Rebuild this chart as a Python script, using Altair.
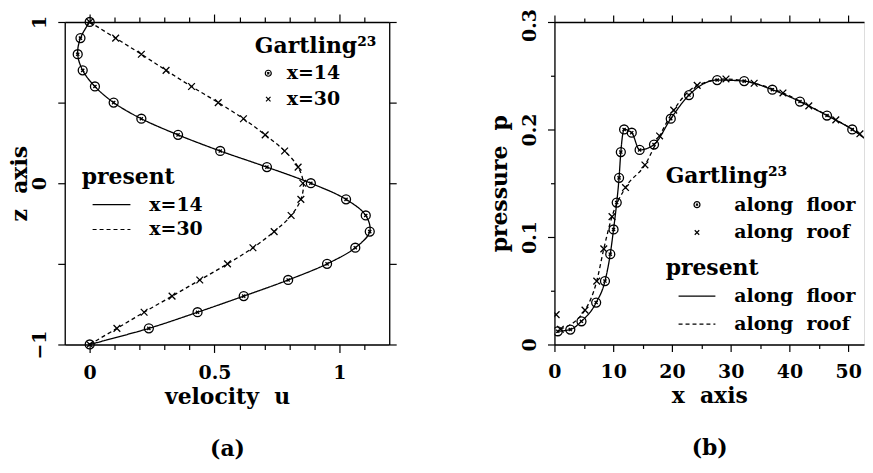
import altair as alt
import pandas as pd

FONT = "DejaVu Serif"
NB = "\u00a0"

# ---------------- panel (a): velocity profiles ----------------
z_levels = [1.0, 0.9, 0.8, 0.7, 0.6, 0.5, 0.4, 0.3, 0.2, 0.1, 0.0,
            -0.1, -0.2, -0.3, -0.4, -0.5, -0.6, -0.7, -0.8, -0.9, -1.0]
u_gart_x14 = [0.0, -0.037, -0.048, -0.028, 0.021, 0.096, 0.207, 0.354, 0.523, 0.710, 0.886,
              1.027, 1.106, 1.122, 1.064, 0.951, 0.795, 0.617, 0.432, 0.237, 0.0]
u_gart_x30 = [0.0, 0.104, 0.207, 0.306, 0.408, 0.515, 0.616, 0.703, 0.781, 0.835, 0.854,
              0.846, 0.807, 0.739, 0.654, 0.552, 0.441, 0.330, 0.218, 0.109, 0.0]
u_pres_x14 = [0.0, -0.037, -0.048, -0.028, 0.021, 0.096, 0.207, 0.354, 0.523, 0.710, 0.886,
              1.027, 1.106, 1.122, 1.064, 0.951, 0.795, 0.617, 0.432, 0.237, 0.0]
u_pres_x30 = [0.0, 0.104, 0.207, 0.306, 0.408, 0.515, 0.616, 0.703, 0.781, 0.835, 0.856,
              0.846, 0.807, 0.739, 0.654, 0.552, 0.441, 0.330, 0.218, 0.109, 0.0]
cases_a = ["x=14", "x=30"]

# ---------------- panel (b): pressure ----------------
x_gart_floor = [0.57, 2.7, 4.6, 7.1, 8.6, 9.5, 10.06, 10.6, 11.0, 11.3, 11.86, 13.16, 14.5,
                16.95, 19.8, 22.9, 27.7, 32.3, 37.1, 41.8, 46.4, 50.7, 54.1]
p_gart_floor = [0.0123, 0.0139, 0.0216, 0.039, 0.059, 0.084, 0.107, 0.132, 0.155, 0.179, 0.200,
                0.197, 0.181, 0.186, 0.210, 0.232, 0.246, 0.245, 0.237, 0.226, 0.213, 0.200, 0.186]
x_gart_roof = [0.29, 1.0, 5.2, 7.2, 8.4, 9.8, 12.1, 15.4, 17.9, 20.3, 24.3, 29.2, 34.0,
               38.9, 43.3, 47.9, 52.0]
p_gart_roof = [0.0278, 0.0142, 0.0320, 0.059, 0.089, 0.119, 0.146, 0.167, 0.194, 0.218, 0.241,
               0.247, 0.243, 0.234, 0.222, 0.209, 0.196]
x_pres_floor = x_gart_floor
p_pres_floor = p_gart_floor
x_pres_roof = [1.0, 5.2, 7.2, 8.4, 9.8, 12.1, 15.4, 17.9, 20.3, 24.3, 29.2, 34.0,
               38.9, 43.3, 47.9, 52.0]
p_pres_roof = [0.0142, 0.0320, 0.059, 0.089, 0.119, 0.146, 0.167, 0.194, 0.218, 0.241,
               0.247, 0.243, 0.234, 0.222, 0.209, 0.196]
cases_b = [f"along{NB}{NB}floor", f"along{NB}{NB}roof"]

CIRCLE = ("M-1,0A1,1 0 1,0 1,0A1,1 0 1,0 -1,0"
          "M-0.35,-0.35L0.35,0.35M-0.35,0.35L0.35,-0.35")
CROSS = "M-0.75,-0.75L0.75,0.75M-0.75,0.75L0.75,-0.75"

a_pts = pd.DataFrame({
    "z": z_levels * 2,
    "u": u_gart_x14 + u_gart_x30,
    "g": [cases_a[0]] * len(z_levels) + [cases_a[1]] * len(z_levels),
})
a_lines = pd.DataFrame({
    "z": z_levels * 2,
    "u": u_pres_x14 + u_pres_x30,
    "p": [cases_a[0]] * len(z_levels) + [cases_a[1]] * len(z_levels),
})
b_pts = pd.DataFrame({
    "x": x_gart_floor + x_gart_roof,
    "pr": p_gart_floor + p_gart_roof,
    "g": [cases_b[0]] * len(x_gart_floor) + [cases_b[1]] * len(x_gart_roof),
})
b_lines = pd.DataFrame({
    "x": x_pres_floor + x_pres_roof,
    "pr": p_pres_floor + p_pres_roof,
    "p": [cases_b[0]] * len(x_pres_floor) + [cases_b[1]] * len(x_pres_roof),
})

WEIGHT = "bold"


def axis(orient, values, major_test, labels=True, title=None, label_angle=0,
         title_padding=0, label_padding=8, major=8, minor=5, line_height=26,
         label_offset=None):
    kw = dict(
        orient=orient, values=values, grid=False, domain=True, labelFlush=False,
        domainColor="black", domainWidth=1.3, tickColor="black", tickWidth=1.2,
        tickSize={"condition": {"test": major_test, "value": major}, "value": minor},
        labelFont=FONT, labelFontSize=19, labelColor="black", labelFontWeight=WEIGHT,
        titleFont=FONT, titleFontSize=22, titleFontWeight=WEIGHT, titleColor="black",
    )
    if labels:
        kw.update(
            labels=True,
            labelExpr=f"({major_test}) ? format(datum.value, '~g') : ''",
            labelPadding=label_padding, labelAngle=label_angle,
        )
        if label_angle != 0:
            kw.update(labelAlign="center", labelBaseline="alphabetic")
        if label_offset is not None:
            kw.update(labelOffset=label_offset)
    else:
        kw.update(labels=False)
    if title is not None:
        kw.update(title=title, titlePadding=title_padding, titleLineHeight=line_height)
    else:
        kw.update(title=None)
    return alt.Axis(**kw)


def legend(title, lx, ly, sym_off, lab_off, sym_size, row_pad, title_pad):
    return alt.Legend(
        title=title, orient="none", legendX=lx, legendY=ly, padding=0,
        titleFont=FONT, titleFontSize=22, titleFontWeight=WEIGHT, titleColor="black",
        labelFont=FONT, labelFontSize=19, labelColor="black", labelFontWeight=WEIGHT,
        symbolSize=sym_size, symbolStrokeWidth=1.2, symbolStrokeColor="black",
        symbolOffset=sym_off, labelOffset=lab_off, rowPadding=row_pad,
        titlePadding=title_pad, labelLimit=300, titleLimit=300, clipHeight=19,
    )


# ----- panel (a) -----
xa = alt.Scale(domain=[-0.1, 1.2], nice=False, zero=False)
ya = alt.Scale(domain=[-1, 1], nice=False, zero=False)
xa_vals = [round(i * 0.1, 1) for i in range(0, 12)]
xa_test = "abs(datum.value*2 - round(datum.value*2)) < 1e-6"
ya_vals = [-1, -0.5, 0, 0.5, 1]
ya_test = "abs(datum.value - round(datum.value)) < 1e-6"

a_line = alt.Chart(a_lines).mark_line(color="black", strokeWidth=1.3,
                                     interpolate="catmull-rom").encode(
    x=alt.X("u:Q", scale=xa, axis=axis("bottom", xa_vals, xa_test,
                                        title=[f"velocity{NB}{NB}u", "(a)"],
                                        label_padding=11, title_padding=4, line_height=53)),
    y=alt.Y("z:Q", scale=ya, axis=axis("left", ya_vals, ya_test, title=f"z{NB}{NB}axis",
                                        label_angle=-90, label_padding=12,
                                        title_padding=-1, major=7, minor=7)),
    strokeDash=alt.StrokeDash("p:N", scale=alt.Scale(range=[[1, 0], [4, 3]]),
                              legend=legend("present", 17, 146, 10, 18, 1444, 5, 6)),
    order=alt.Order("z:Q"),
)
a_point = alt.Chart(a_pts).mark_point(filled=False, color="black", strokeWidth=1.3,
                                     size=81, opacity=1).encode(
    x=alt.X("u:Q", scale=xa, axis=axis("top", xa_vals, xa_test, labels=False)),
    y=alt.Y("z:Q", scale=ya, axis=axis("right", ya_vals, "true", labels=False,
                                        major=7, minor=7)),
    shape=alt.Shape("g:N", scale=alt.Scale(range=[CIRCLE, CROSS]),
                    legend=legend("Gartling²³", 191, 14, 4, 9, 36, 6, 6)),
)
panel_a = alt.layer(a_line, a_point).resolve_axis(
    x="independent", y="independent").properties(width=326, height=324)

# ----- panel (b) -----
xb = alt.Scale(domain=[0, 52.7], nice=False, zero=False)
yb = alt.Scale(domain=[0, 0.3], nice=False, zero=False)
xb_vals = list(range(0, 55, 5))
xb_test = "datum.value % 10 === 0"
yb_vals = [round(i * 0.05, 2) for i in range(0, 7)]
yb_test = "abs(datum.value*10 - round(datum.value*10)) < 1e-6"
top_label_shift = {"condition": {"test": "datum.value > 0.29", "value": 3}, "value": 0}

b_line = alt.Chart(b_lines).mark_line(color="black", strokeWidth=1.3,
                                     interpolate="monotone", clip=True).encode(
    x=alt.X("x:Q", scale=xb, axis=axis("bottom", [v for v in xb_vals if v <= 52.7], xb_test,
                                        title=[f"x{NB}{NB}axis", "(b)"],
                                        label_padding=11, title_padding=4,
                                        major=7, minor=4, line_height=53)),
    y=alt.Y("pr:Q", scale=yb, axis=axis("left", yb_vals, yb_test, title=f"pressure{NB}{NB}p",
                                         label_angle=-90, label_padding=12,
                                         title_padding=9, major=7, minor=4,
                                         label_offset=top_label_shift)),
    strokeDash=alt.StrokeDash("p:N", scale=alt.Scale(range=[[1, 0], [4, 3]]),
                              legend=legend("present", 111.7, 237, 12, 18, 1369, 8, 7)),
    order=alt.Order("x:Q"),
)
b_point = alt.Chart(b_pts).mark_point(filled=False, color="black", strokeWidth=1.3,
                                     size=81, opacity=1, clip=True).encode(
    x=alt.X("x:Q", scale=xb, axis=axis("top", [v for v in xb_vals if v <= 52.7], xb_test,
                                        labels=False, major=7, minor=4)),
    y=alt.Y("pr:Q", scale=yb, axis=None),
    shape=alt.Shape("g:N", scale=alt.Scale(range=[CIRCLE, CROSS]),
                    legend=legend("Gartling²³", 111.7, 145, 22, 28, 36, 8, 7)),
)
panel_b = alt.layer(b_line, b_point).resolve_axis(
    x="independent", y="independent").properties(width=311, height=324)

chart = alt.hconcat(panel_a, panel_b, spacing=90).resolve_scale(
    x="independent", y="independent", shape="independent", strokeDash="independent"
).resolve_legend(shape="independent", strokeDash="independent").properties(
    padding={"left": 0, "top": -2, "right": 0, "bottom": 0}
).configure_view(stroke=None).configure(background="white")

chart.save("out.html", embed_options={"renderer": "svg", "actions": False})
